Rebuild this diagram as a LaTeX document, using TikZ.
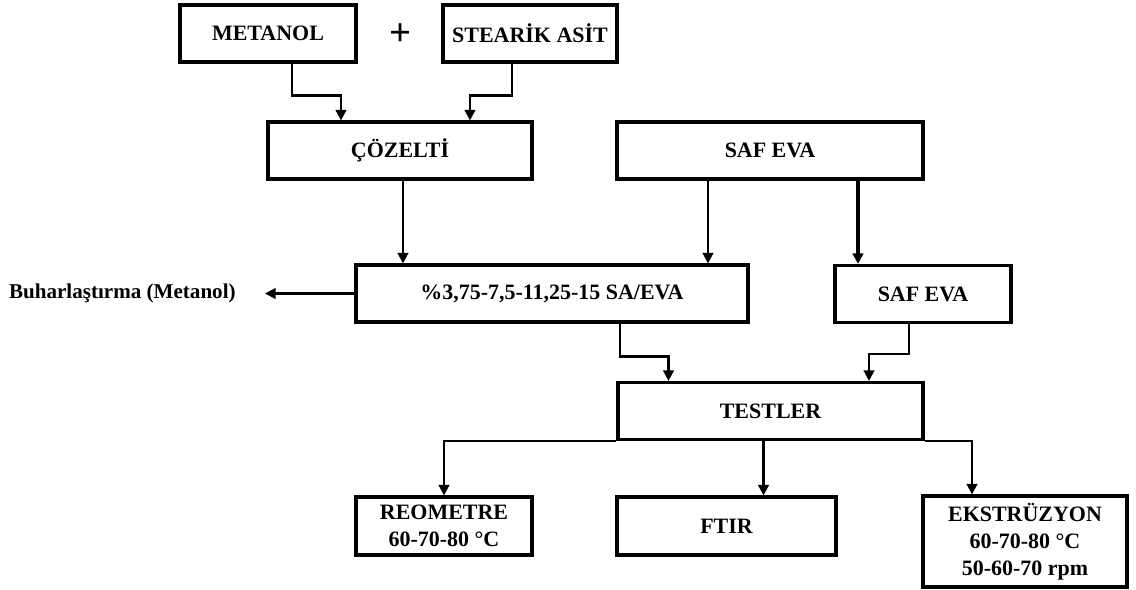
\documentclass[tikz,border=0pt]{standalone}
\usepackage{fontspec}
\setmainfont{Liberation Serif}
\usepackage{tikz}
\usetikzlibrary{arrows.meta, positioning, calc}

\begin{document}
\begin{tikzpicture}[
        x=0.02cm, y=-0.02cm,
        kutu/.style={rectangle, draw, line width=1.8pt, minimum height=1.14cm, align=center, inner sep=2pt, font=\fontsize{12.5}{15.5}\selectfont\bfseries},
        ok/.style={-{Triangle[length=6pt, width=6pt]}, line width=1.35pt}
    ]
        \useasboundingbox (0,0) rectangle (1136,589);

        \node[kutu, minimum width=3.52cm] (metanol)  at (268, 33.5)  {METANOL};
        \node[kutu, minimum width=3.48cm] (stearik)  at (530, 33.5)  {STEARİK ASİT};
        \node[font=\fontsize{22}{22}\selectfont\bfseries] (arti) at (401, 35) {+};
        \node[kutu, minimum width=5.28cm] (cozelti)  at (400, 150.5) {ÇÖZELTİ};
        \node[kutu, minimum width=6.12cm] (safevaA)  at (770, 150.5) {SAF EVA};
        \node[kutu, minimum width=7.84cm] (karisim)  at (552, 293.5) {\%3,75-7,5-11,25-15 SA/EVA};
        \node[kutu, minimum width=3.52cm] (safevaB)  at (923, 294)   {SAF EVA};
        \node[kutu, minimum width=6.10cm] (testler)  at (770.5, 411) {TESTLER};
        \node[kutu, minimum width=3.52cm, minimum height=1.16cm] (reometre) at (444, 526) {REOMETRE\\60-70-80 °C};
        \node[kutu, minimum width=4.38cm, minimum height=1.16cm] (ftir)     at (726.5, 526) {FTIR};
        \node[kutu, minimum width=4.08cm, minimum height=1.82cm] (ekstruzyon) at (1025, 541.5) {EKSTRÜZYON\\60-70-80 °C\\50-60-70 rpm};
        \node[anchor=east, inner sep=0pt, font=\fontsize{12}{15}\selectfont\bfseries] (buhar) at (236, 293.5) {Buharlaştırma (Metanol)};

        % girdiler
        \draw[ok] ($(metanol.south)+(24,0)$) -- ++(0,32) -| ($(cozelti.north)+(-59,0)$);
        \draw[ok] ($(stearik.south)+(-18,0)$) -- ++(0,32) -| ($(cozelti.north)+(70,0)$);
        \draw[ok] ($(cozelti.south)+(3,0)$) -- ($(karisim.north)+(-149,0)$);
        \draw[ok] ($(safevaA.south)+(-62,0)$) -- ($(karisim.north)+(156,0)$);
        \draw[ok, line width=2pt] ($(safevaA.south)+(88,0)$) -- ($(safevaB.north)+(-65,0)$);
        \draw[ok] (karisim.west) -- ($(buhar.east)+(29,0)$);

        % testler
        \draw[ok] ($(karisim.south)+(68,0)$) -- ++(0,33) -| ($(testler.north)+(-102,0)$);
        \draw[ok] ($(safevaB.south)+(-14,0)$) -- ++(0,30) -| ($(testler.north)+(98.5,0)$);
        \draw[ok] (testler.south west) -| (reometre.north);
        \draw[ok] ($(testler.south)+(-7,0)$) -- ($(ftir.north)+(37,0)$);
        \draw[ok] (testler.south east) -| ($(ekstruzyon.north)+(-53,0)$);
    \end{tikzpicture}
\end{document}
